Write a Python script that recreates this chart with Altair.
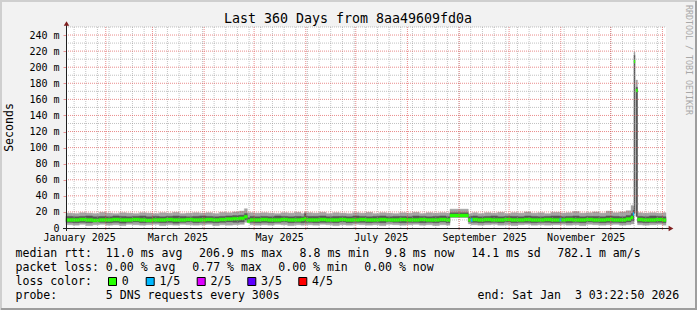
import altair as alt
import pandas as pd

# ---------------- data ----------------
START = pd.Timestamp("2025-01-08 03:22:50")
END = pd.Timestamp("2026-01-03 03:22:50")

# start of each consolidated interval, in days after START
days = [0, 4, 8, 12, 16, 20, 24, 28, 32, 36, 40, 44, 48, 52, 56, 60, 64, 68, 72, 76,
        80, 84, 88, 92, 96, 100, 104, 107, 108.8, 110.4, 113, 117, 121, 125, 129, 133,
        137, 141, 143, 144, 148, 152, 156, 160, 164, 168, 172, 176, 180, 184, 188, 192,
        196, 200, 204, 208, 212, 216, 220, 224, 228, 230.4, 241.4, 243.0, 244.0, 247,
        251, 255, 259, 263, 267, 271, 275, 279, 283, 287, 291, 296.3, 297.3, 300, 304,
        308, 312, 316, 320, 324, 328, 332, 336, 339.0, 340.2, 340.8, 341.4, 342.0,
        342.9, 346, 350, 354, 358]
# sorted pings (ms): min, 2nd, median, 4th, max
p_min = [4.0, 3.5, 4.5, 3.0, 4.0, 4.5, 3.5, 4.0, 3.0, 4.5, 4.0, 3.5, 4.0, 4.5, 3.0, 4.0,
         3.5, 4.5, 4.0, 3.5, 4.0, 4.5, 3.0, 4.0, 3.5, 4.0, 4.5, 7.0, 7.5, 4.0, 3.5, 4.0,
         3.5, 4.5, 4.0, 3.0, 4.0, 3.5, 4.0, 4.0, 3.5, 4.5, 4.0, 3.0, 4.0, 3.5, 4.5, 4.0,
         3.5, 4.0, 3.0, 4.5, 4.0, 3.5, 4.0, 4.5, 3.5, 4.0, 3.0, 4.0, 3.5, 13.2, 5.0, 4.0,
         4.0, 3.5, 4.0, 4.5, 3.5, 4.0, 3.0, 4.0, 4.5, 3.5, 4.0, 3.5, 4.0, 4.0, 4.5, 3.5,
         4.0, 3.0, 4.5, 4.0, 3.5, 4.0, 4.5, 3.5, 4.0, 5.0, 5.0, 18.0, None, 14.0, 4.0,
         3.5, 4.0, 4.5, 3.5]
p_lo = [7.0, 6.5, 7.0, 6.5, 7.5, 7.0, 6.5, 7.0, 6.0, 7.0, 7.5, 6.5, 7.0, 7.0, 6.5, 7.0,
        6.0, 7.0, 7.5, 6.5, 7.0, 7.0, 6.5, 7.0, 7.5, 7.0, 7.5, 10.0, 8.0, 7.0, 6.5, 7.0,
        6.5, 7.0, 7.5, 6.5, 7.0, 6.5, 7.0, 7.0, 6.5, 7.0, 7.0, 6.5, 7.5, 6.5, 7.0, 7.0,
        6.5, 7.0, 6.5, 7.5, 7.0, 6.5, 7.0, 7.0, 6.5, 7.0, 6.5, 7.5, 6.5, 13.6, 7.5, 7.0,
        7.0, 6.5, 7.0, 7.0, 6.5, 7.5, 6.5, 7.0, 7.0, 6.5, 7.0, 7.0, 6.5, 7.0, 7.0, 6.5,
        7.0, 6.5, 7.5, 7.0, 6.5, 7.0, 7.0, 6.5, 7.5, 9.0, 9.0, 18.5, None, 14.5, 7.0,
        6.5, 7.0, 7.0, 6.5]
median = [10.0, 10.0, 10.5, 10.0, 9.5, 10.0, 10.0, 10.5, 10.0, 10.0, 10.5, 10.0, 9.5,
          10.0, 10.0, 10.5, 10.0, 10.0, 10.5, 10.0, 10.0, 10.5, 10.0, 10.5, 11.0, 11.5,
          12.0, 14.0, 8.5, 10.0, 10.0, 10.5, 10.0, 10.0, 10.5, 10.0, 10.0, 10.5, 11.5,
          10.0, 10.0, 10.5, 10.0, 10.0, 10.5, 10.0, 10.0, 10.5, 10.0, 10.0, 10.5, 10.0,
          10.0, 10.5, 10.0, 10.0, 10.5, 10.0, 10.0, 10.5, 10.0, 15.5, 10.0, 10.0, 10.5,
          10.0, 10.5, 10.0, 10.0, 10.5, 10.0, 10.0, 10.5, 10.0, 10.0, 10.5, 10.0, 10.0,
          10.0, 10.5, 10.0, 10.0, 10.5, 10.0, 10.0, 10.5, 10.0, 10.0, 11.0, 13.0, 17.5,
          207.0, None, 171.0, 10.5, 10.0, 10.0, 10.5, 9.8]
p_hi = [14.5, 14.0, 14.5, 15.0, 14.0, 14.5, 14.0, 15.0, 14.5, 14.0, 14.5, 15.0, 14.0,
        14.5, 14.0, 14.5, 15.0, 14.5, 14.0, 14.5, 15.0, 14.5, 14.0, 14.5, 15.0, 15.5,
        16.0, 18.0, 13.0, 14.5, 14.0, 14.5, 14.0, 15.0, 14.5, 14.0, 14.5, 14.0, 18.0,
        14.5, 14.5, 15.0, 14.0, 14.5, 14.5, 14.0, 15.0, 14.5, 14.0, 14.5, 15.0, 14.0,
        14.5, 14.5, 14.0, 15.0, 14.5, 14.0, 14.5, 15.0, 14.0, 19.0, 14.0, 14.5, 15.0,
        14.0, 14.5, 15.0, 14.0, 14.5, 14.5, 14.0, 15.0, 14.5, 14.0, 14.5, 15.0, 14.5,
        14.0, 14.5, 15.0, 14.0, 14.5, 14.5, 14.0, 15.0, 14.5, 14.0, 15.5, 18.0, 22.0,
        215.0, None, 175.0, 14.5, 14.0, 15.0, 14.5, 14.0]
p_max = [18.5, 18.0, 19.0, 18.5, 18.0, 19.5, 18.5, 18.0, 19.0, 18.5, 18.0, 19.0, 18.5,
         18.0, 19.0, 18.5, 19.5, 18.0, 18.5, 19.0, 18.5, 19.0, 18.0, 19.5, 19.0, 20.0,
         21.0, 24.0, 19.0, 19.0, 18.5, 19.0, 18.5, 18.0, 19.0, 18.5, 19.5, 18.0, 20.0,
         19.0, 18.5, 19.5, 18.0, 19.0, 18.5, 18.0, 19.0, 18.5, 19.5, 18.0, 19.0, 18.5,
         18.0, 19.0, 18.5, 19.5, 18.0, 19.0, 18.5, 19.0, 18.5, 23.5, 17.5, 18.5, 19.0,
         18.0, 19.0, 18.5, 19.5, 18.0, 19.0, 18.5, 20.0, 18.5, 19.0, 18.0, 19.5, 19.0,
         18.5, 19.0, 20.5, 18.5, 19.0, 20.0, 18.5, 21.0, 19.0, 20.0, 21.5, 28.0, 27.0,
         219.0, None, 184.0, 19.0, 18.5, 19.0, 18.5, 19.0]
# lost pings out of 5 for each interval
loss = [0] * 63 + [1] + [0] * 13 + [1] + [0] * 12 + [1, 0, 0, 0] + [0] * 5

loss_labels = ["0", "1/5", "2/5", "3/5", "4/5"]
loss_colors = ["#26ff00", "#00b8ff", "#dd00ff", "#5e00ff", "#ff0000"]

x_label_dates = ["2025-01-16", "2025-03-16", "2025-05-16", "2025-07-16",
                 "2025-09-16", "2025-11-16"]
month_lines = ["2025-02-01", "2025-03-01", "2025-04-01", "2025-05-01", "2025-06-01",
               "2025-07-01", "2025-08-01", "2025-09-01", "2025-10-01", "2025-11-01",
               "2025-12-01", "2026-01-01"]
y_major = [20, 40, 60, 80, 100, 120, 140, 160, 180, 200, 220, 240]
y_minor = [10, 30, 50, 70, 90, 110, 130, 150, 170, 190, 210, 230, 250]
y_labels = [0] + y_major

title_text = "Last 360 Days from 8aa49609fd0a"
stat_rows = [
    [("median rtt:  11.0 ms avg", 15.5), ("206.9 ms max", 199.0), ("8.8 ms min", 299.6),
     ("9.8 ms now", 385.0), ("14.1 ms sd", 471.3), ("782.1 m am/s", 557.2)],
    [("packet loss: 0.00 % avg", 15.5), ("0.77 % max", 192.3), ("0.00 % min", 278.3),
     ("0.00 % now", 364.2)],
    [("loss color:", 15.5)],
    [("probe:       5 DNS requests every 300s", 15.5),
     ("end: Sat Jan  3 03:22:50 2026", 477.6)],
]
row_y = [254.3, 268.3, 282.0, 296.0]
box_left = [108.0, 145.7, 196.7, 247.3, 298.3]

# ---------------- frames ----------------
L, T, W, H = 66, 27, 600, 201
FMT = "%Y-%m-%dT%H:%M:%S"

df = pd.DataFrame({"day": days, "p1": p_min, "p2": p_lo, "p3": median,
                   "p4": p_hi, "p5": p_max, "loss": loss})
t0 = START + pd.to_timedelta(df["day"], unit="D")
t1 = t0.shift(-1)
t1.iloc[-1] = END
df["t0"] = t0.dt.strftime(FMT)
df["t1"] = t1.dt.strftime(FMT)
df = df.dropna(subset=["p3"]).reset_index(drop=True)
df["loss"] = df["loss"].astype(int)

weeks = pd.DataFrame({"t": pd.date_range("2025-01-13", END, freq="7D").strftime(FMT)})
months = pd.DataFrame({"t": [d + "T00:00:00" for d in month_lines]})
hmaj = pd.DataFrame({"v": y_major})
hmin = pd.DataFrame({"v": y_minor})
one = pd.DataFrame({"k": [0]})


def dt(s):
    ts = pd.Timestamp(s)
    return alt.DateTime(year=ts.year, month=ts.month, date=ts.day,
                        hours=ts.hour, minutes=ts.minute, seconds=ts.second)


xs = alt.Scale(domain=[dt(START), dt(END)], nice=False)
ys = alt.Scale(domain=[0, 250], nice=False)
MONO = "DejaVu Sans Mono"
xaxis = alt.Axis(values=[dt(d) for d in x_label_dates], format="%B %Y", grid=False,
                 domain=False, ticks=False, tickSize=0, labelPadding=9.5,
                 labelBaseline="middle", labelFont=MONO, labelFontSize=10,
                 labelColor="black", labelFlush=False, labelOverlap=False, title=None)
yaxis = alt.Axis(values=y_labels, labelExpr="datum.value == 0 ? '0' : datum.value + ' m'",
                 grid=False, domain=False, ticks=True, tickSize=3, tickColor="#DE4F4F",
                 tickOpacity=0.6, labelPadding=4, labelFont=MONO, labelFontSize=10,
                 labelColor="black", title=None)


def X(f):
    return alt.X(f, type="temporal", scale=xs, axis=xaxis, title=None)


def Y(f):
    return alt.Y(f, type="quantitative", scale=ys, axis=yaxis, title=None)


GRID = dict(strokeDash=[1, 1], strokeWidth=1)
layers = []

# smoke and median
layers.append(alt.Chart(df).mark_rect(fill="#A4A4A4", stroke="#A4A4A4", strokeWidth=0.4)
              .encode(x=X("t0"), x2="t1:T", y=Y("p1"), y2="p5:Q"))
layers.append(alt.Chart(df).mark_rect(fill="#585858", stroke="#585858", strokeWidth=0.4)
              .encode(x=X("t0"), x2="t1:T", y=Y("p2"), y2="p4:Q"))
lc = alt.Scale(domain=[0, 1, 2, 3, 4], range=loss_colors)
layers.append(alt.Chart(df).transform_calculate(lo="datum.p3 - 1.85", hi="datum.p3 + 1.85")
              .mark_rect(strokeWidth=0.4)
              .encode(x=X("t0"), x2="t1:T", y=Y("lo:Q"), y2="hi:Q",
                      fill=alt.Fill("loss:O", scale=lc, legend=None),
                      stroke=alt.Stroke("loss:O", scale=lc, legend=None)))

# grid on top (rrdtool style)
layers.append(alt.Chart(weeks).mark_rule(color="#8F8F8F", strokeOpacity=0.55, **GRID)
              .encode(x=X("t"), y=alt.value(0), y2=alt.value(H)))
layers.append(alt.Chart(hmin).mark_rule(color="#8F8F8F", strokeOpacity=0.55, **GRID)
              .encode(y=Y("v"), x=alt.value(0), x2=alt.value(W)))
layers.append(alt.Chart(months).mark_rule(color="#DE4F4F", strokeOpacity=0.65, **GRID)
              .encode(x=X("t"), y=alt.value(0), y2=alt.value(H + 3)))
layers.append(alt.Chart(hmaj).mark_rule(color="#DE4F4F", strokeOpacity=0.65, **GRID)
              .encode(y=Y("v"), x=alt.value(0), x2=alt.value(W)))

# axis lines and arrows
layers.append(alt.Chart(one).mark_rule(color="#1F1F1F", strokeWidth=1)
              .encode(x=alt.value(-3), x2=alt.value(W + 6), y=alt.value(H + 0.5)))
layers.append(alt.Chart(one).mark_rule(color="#1F1F1F", strokeWidth=1)
              .encode(x=alt.value(0.5), y=alt.value(H + 3), y2=alt.value(-3)))
layers.append(alt.Chart(one).mark_point(shape="triangle-right", filled=True, opacity=1,
                                        color="#801F1F", size=30)
              .encode(x=alt.value(W + 5), y=alt.value(H + 0.5)))
layers.append(alt.Chart(one).mark_point(shape="triangle-up", filled=True, opacity=1,
                                        color="#801F1F", size=30)
              .encode(x=alt.value(0.5), y=alt.value(-3.5)))

# image border (3D shade)
layers.append(alt.Chart(one).mark_rule(color="#CFCFCF", strokeWidth=2)
              .encode(x=alt.value(-L), x2=alt.value(697 - L), y=alt.value(-T + 1)))
layers.append(alt.Chart(one).mark_rule(color="#CFCFCF", strokeWidth=2)
              .encode(x=alt.value(-L + 1), y=alt.value(-T), y2=alt.value(310 - T)))
layers.append(alt.Chart(one).mark_rule(color="#9E9E9E", strokeWidth=2)
              .encode(x=alt.value(-L + 1), x2=alt.value(697 - L), y=alt.value(310 - T - 1)))
layers.append(alt.Chart(one).mark_rule(color="#9E9E9E", strokeWidth=2)
              .encode(x=alt.value(697 - L - 1), y=alt.value(-T + 1), y2=alt.value(310 - T)))


def txt(s, ax, ay, size, align="left", angle=0, color="black"):
    kw = dict(font=MONO, fontSize=size, align=align, baseline="middle", color=color)
    if angle:
        kw["angle"] = angle
    return (alt.Chart(one).mark_text(**kw)
            .encode(x=alt.value(ax - L), y=alt.value(ay - T),
                    text=alt.value(s.replace(" ", "\u00a0"))))


layers.append(txt(title_text, 348, 19, 13.3, align="center"))
layers.append(txt("Seconds", 10, 127.5, 11.55, align="center", angle=270))
layers.append(txt("RRDTOOL / TOBI OETIKER", 688, 60, 8.3, align="center", angle=90,
                  color="#A8A8A8"))
for items, yy in zip(stat_rows, row_y):
    for s, xx in items:
        layers.append(txt(s, xx, yy, 11.55))

for lab, col, bx in zip(loss_labels, loss_colors, box_left):
    layers.append(alt.Chart(one).mark_rect(fill=col, stroke="black", strokeWidth=1)
                  .encode(x=alt.value(bx + 0.5 - L), x2=alt.value(bx + 8.5 - L),
                          y=alt.value(277.5 - T), y2=alt.value(285.5 - T)))
    layers.append(txt(lab, bx + 13.7, row_y[2], 11.55))

chart = (alt.layer(*layers)
         .properties(width=W, height=H, background="#F2F2F2",
                     autosize=alt.AutoSizeParams(type="none"),
                     padding={"left": L, "top": T, "right": 697 - L - W,
                              "bottom": 310 - T - H})
         .configure_view(stroke=None, fill="white"))

chart.save("out.html", embed_options={"renderer": "svg", "actions": False})
